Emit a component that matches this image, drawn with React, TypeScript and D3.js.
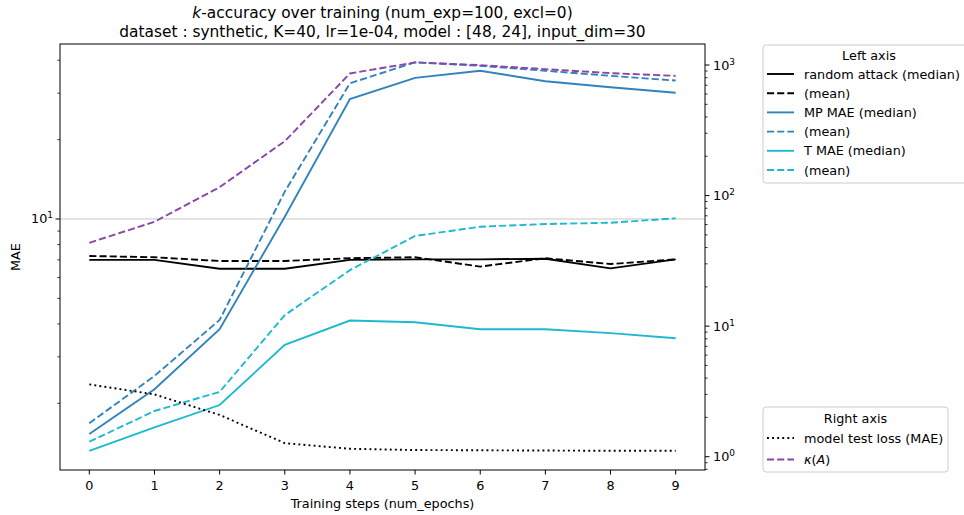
import React from "react";
import * as d3 from "d3";

const epochs = [0, 1, 2, 3, 4, 5, 6, 7, 8, 9];
const randomMedian = [7.0, 7.0, 6.48, 6.48, 7.0, 7.03, 7.03, 7.07, 6.5, 7.03];
const randomMean = [7.24, 7.16, 6.93, 6.93, 7.1, 7.16, 6.6, 7.1, 6.75, 7.03];
const mpMedian = [1.53, 2.26, 3.82, 10.2, 28.5, 34.3, 36.5, 33.3, 31.6, 30.1];
const mpMean = [1.68, 2.54, 4.14, 12.7, 32.7, 39.3, 38.1, 36.5, 34.9, 33.5];
const tMedian = [1.32, 1.62, 1.97, 3.33, 4.12, 4.06, 3.82, 3.82, 3.69, 3.53];
const tMean = [1.43, 1.87, 2.21, 4.32, 6.4, 8.62, 9.35, 9.57, 9.68, 10.06];
const testLoss = [3.58, 3.0, 2.09, 1.27, 1.15, 1.125, 1.12, 1.115, 1.11, 1.11];
const kappa = [43.5, 63, 116, 261, 862, 1047, 998, 930, 867, 826];

const xDomain = [-0.45, 9.45];
const leftDomain = [1.117, 46.1];
const rightDomain = [0.791, 1449];
const leftMajor = [10];
const rightMajor = [1, 10, 100, 1000];

const C_BLACK = "#000000";
const C_BLUE = "#3182bd";
const C_CYAN = "#1fb9cf";
const C_PURPLE = "#8846a8";

const FONT = "DejaVu Sans";
const FS = 12.8;

const M = { left: 60, right: 705, top: 44, bottom: 470 };

const DASH = "7.1,3.07";
const DOT = "1.92,3.17";

function minorTicks(domain: number[]) {
  const out: number[] = [];
  for (let e = -2; e <= 4; e++) {
    for (let m = 2; m <= 9; m++) {
      const v = m * Math.pow(10, e);
      if (v >= domain[0] && v <= domain[1]) out.push(v);
    }
  }
  return out;
}

export default function App() {
  const x = d3.scaleLinear().domain(xDomain).range([M.left, M.right]);
  const yL = d3.scaleLog().domain(leftDomain).range([M.bottom, M.top]);
  const yR = d3.scaleLog().domain(rightDomain).range([M.bottom, M.top]);

  const lineL = d3
    .line<number>()
    .x((_, i) => x(epochs[i]))
    .y((d) => yL(d));
  const lineR = d3
    .line<number>()
    .x((_, i) => x(epochs[i]))
    .y((d) => yR(d));

  const leftSeries = [
    { data: randomMedian, color: C_BLACK, dash: undefined, label: "random attack (median)" },
    { data: randomMean, color: C_BLACK, dash: DASH, label: "(mean)" },
    { data: mpMedian, color: C_BLUE, dash: undefined, label: "MP MAE (median)" },
    { data: mpMean, color: C_BLUE, dash: DASH, label: "(mean)" },
    { data: tMedian, color: C_CYAN, dash: undefined, label: "T MAE (median)" },
    { data: tMean, color: C_CYAN, dash: DASH, label: "(mean)" },
  ];
  const rightSeries = [
    { data: testLoss, color: C_BLACK, dash: DOT, label: "model test loss (MAE)" },
    { data: kappa, color: C_PURPLE, dash: DASH, label: "kappa" },
  ];

  const cx = (M.left + M.right) / 2;
  const cy = (M.top + M.bottom) / 2;

  const sup = (base: string, exp: string) => (
    <>
      {base}
      <tspan fontSize={FS * 0.7} dy={-5}>
        {exp}
      </tspan>
    </>
  );

  const legendRow = 19.2;

  return (
    <svg
      width={964}
      height={515}
      style={{ position: "absolute", left: 0, top: 0, background: "#fff" }}
      fontFamily={FONT}
    >
      <rect x={0} y={0} width={964} height={515} fill="#fff" />
      {/* title */}
      <text x={cx} y={18} textAnchor="middle" fontSize={15.4} fill="#000">
        <tspan fontStyle="italic">k</tspan>-accuracy over training (num_exp=100, excl=0)
      </text>
      <text x={cx} y={37} textAnchor="middle" fontSize={15.4} fill="#000">
        dataset : synthetic, K=40, lr=1e-04, model : [48, 24], input_dim=30
      </text>

      {/* grid */}
      {leftMajor.map((v) => (
        <line key={"g" + v} x1={M.left} x2={M.right} y1={yL(v)} y2={yL(v)} stroke="#b0b0b0" strokeOpacity={0.7} strokeWidth={1} />
      ))}

      {/* series */}
      <g clipPath="url(#clip)">
        <defs>
          <clipPath id="clip">
            <rect x={M.left} y={M.top} width={M.right - M.left} height={M.bottom - M.top} />
          </clipPath>
        </defs>
        {leftSeries.map((s, i) => (
          <path key={"l" + i} d={lineL(s.data) || ""} fill="none" stroke={s.color} strokeWidth={1.9} strokeDasharray={s.dash} />
        ))}
        {rightSeries.map((s, i) => (
          <path key={"r" + i} d={lineR(s.data) || ""} fill="none" stroke={s.color} strokeWidth={1.9} strokeDasharray={s.dash} />
        ))}
      </g>

      {/* frame */}
      <rect x={M.left} y={M.top} width={M.right - M.left} height={M.bottom - M.top} fill="none" stroke="#000" strokeWidth={1} />

      {/* x axis */}
      {epochs.map((e) => (
        <g key={"x" + e}>
          <line x1={x(e)} x2={x(e)} y1={M.bottom} y2={M.bottom + 4.5} stroke="#000" strokeWidth={1} />
          <text x={x(e)} y={M.bottom + 20} textAnchor="middle" fontSize={FS} fill="#000">
            {e}
          </text>
        </g>
      ))}
      <text x={cx} y={508} textAnchor="middle" fontSize={FS} fill="#000">
        Training steps (num_epochs)
      </text>

      {/* left axis */}
      {leftMajor.map((v) => (
        <g key={"ly" + v}>
          <line x1={M.left - 4.5} x2={M.left} y1={yL(v)} y2={yL(v)} stroke="#000" strokeWidth={1} />
          <text x={M.left - 7} y={yL(v) + 4.5} textAnchor="end" fontSize={FS} fill="#000">
            {sup("10", String(Math.round(Math.log10(v))))}
          </text>
        </g>
      ))}
      {minorTicks(leftDomain).map((v) => (
        <line key={"lm" + v} x1={M.left - 2.6} x2={M.left} y1={yL(v)} y2={yL(v)} stroke="#000" strokeWidth={0.8} />
      ))}
      <text x={20} y={cy} textAnchor="middle" fontSize={FS} fill="#000" transform={`rotate(-90, 20, ${cy})`}>
        MAE
      </text>

      {/* right axis */}
      {rightMajor.map((v) => (
        <g key={"ry" + v}>
          <line x1={M.right} x2={M.right + 4.5} y1={yR(v)} y2={yR(v)} stroke="#000" strokeWidth={1} />
          <text x={M.right + 8} y={yR(v) + 4.5} textAnchor="start" fontSize={FS} fill="#000">
            {sup("10", String(Math.round(Math.log10(v))))}
          </text>
        </g>
      ))}
      {minorTicks(rightDomain).map((v) => (
        <line key={"rm" + v} x1={M.right} x2={M.right + 2.6} y1={yR(v)} y2={yR(v)} stroke="#000" strokeWidth={0.8} />
      ))}

      {/* left legend */}
      <g>
        <rect x={763} y={45} width={212} height={138} rx={3} fill="#fff" fillOpacity={0.8} stroke="#cccccc" strokeWidth={1} />
        <text x={869} y={60} textAnchor="middle" fontSize={FS} fill="#000">
          Left axis
        </text>
        {leftSeries.map((s, i) => {
          const yy = 74 + i * legendRow;
          return (
            <g key={"leg" + i}>
              <line x1={767} x2={794} y1={yy} y2={yy} stroke={s.color} strokeWidth={1.9} strokeDasharray={s.dash} />
              <text x={804} y={yy + 4.5} fontSize={FS} fill="#000">
                {s.label}
              </text>
            </g>
          );
        })}
      </g>

      {/* right legend */}
      <g>
        <rect x={763} y={407} width={185} height={65} rx={3} fill="#fff" fillOpacity={0.8} stroke="#cccccc" strokeWidth={1} />
        <text x={855.5} y={422.5} textAnchor="middle" fontSize={FS} fill="#000">
          Right axis
        </text>
        {rightSeries.map((s, i) => {
          const yy = 438 + i * 21.5;
          return (
            <g key={"legr" + i}>
              <line x1={767} x2={794} y1={yy} y2={yy} stroke={s.color} strokeWidth={1.9} strokeDasharray={s.dash} />
              <text x={804} y={yy + 4.5} fontSize={FS} fill="#000">
                {s.label === "kappa" ? (
                  <>
                    <tspan fontStyle="italic">κ</tspan>(<tspan fontStyle="italic">A</tspan>)
                  </>
                ) : (
                  s.label
                )}
              </text>
            </g>
          );
        })}
      </g>
    </svg>
  );
}
